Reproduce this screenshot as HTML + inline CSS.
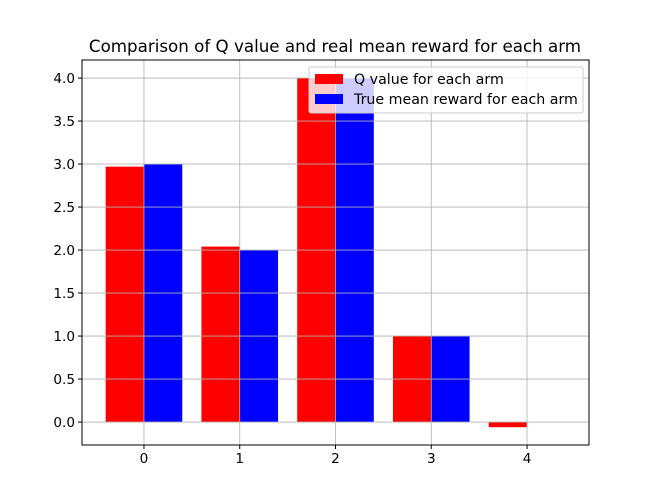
<!DOCTYPE html>
<html><head><meta charset="utf-8"><style>
body{margin:0;background:#fff}
svg{display:block;font-family:"DejaVu Sans","Liberation Sans",sans-serif}
</style></head><body>
<svg id="chart" width="654" height="500" viewBox="0 0 654 500">
<rect width="654" height="500" fill="#fff"/>
<text x="335" y="52" text-anchor="middle" font-size="16.7">Comparison of Q value and real mean reward for each arm</text>
<g id="bars"></g><g id="grid"></g><g id="axes"></g>
<g>
<rect x="309" y="67" width="274" height="46" fill="#fff" fill-opacity="0.8" stroke="#ccc" rx="2"/>
<rect x="315" y="74" width="28" height="10" fill="#ff0000"/>
<text x="354" y="84" font-size="14.2">Q value for each arm</text>
<rect x="315" y="94" width="28" height="10" fill="#0000ff"/>
<text x="354" y="104" font-size="14.2">True mean reward for each arm</text>
</g>
</svg>
<script>
const categories=[0,1,2,3,4];
const qValues=[2.97,2.04,4.0,1.0,-0.06];
const trueValues=[3,2,4,1,0];
const yTicks=[0,0.5,1,1.5,2,2.5,3,3.5,4];
const L=82,R=589,T=60,B=445;
const xMin=-0.647,xMax=4.647,yMin=-0.267,yMax=4.21;
const xs=v=>L+(v-xMin)/(xMax-xMin)*(R-L);
const ys=v=>B-(v-yMin)/(yMax-yMin)*(B-T);
const NS="http://www.w3.org/2000/svg";
function mk(t,a,p){const e=document.createElementNS(NS,t);for(const k in a)e.setAttribute(k,a[k]);p.appendChild(e);return e;}
const bars=document.getElementById('bars'),grid=document.getElementById('grid'),axes=document.getElementById('axes');
categories.forEach((c,i)=>{
  const y0=ys(0);
  let y1=ys(qValues[i]);
  let r=mk('rect',{x:xs(c-0.4),y:Math.min(y0,y1),width:xs(c)-xs(c-0.4),height:Math.abs(y1-y0),fill:'#ff0000'},bars);
  
  
  y1=ys(trueValues[i]);
  r=mk('rect',{x:xs(c),y:Math.min(y0,y1),width:xs(c+0.4)-xs(c),height:Math.abs(y1-y0),fill:'#0000ff'},bars);
  
  
  let g=mk('line',{x1:xs(c),x2:xs(c),y1:T,y2:B,stroke:'#b0b0b0','stroke-width':0.8},grid);
  
  
  mk('line',{x1:xs(c),x2:xs(c),y1:B,y2:B+4,stroke:'#000'},axes);
  let t=mk('text',{x:xs(c),y:B+18,'text-anchor':'middle','font-size':13.6},axes);
  t.textContent=c;
  
  
});
yTicks.forEach(v=>{
  let g=mk('line',{x1:L,x2:R,y1:ys(v),y2:ys(v),stroke:'#b0b0b0','stroke-width':0.8},grid);
  
  
  mk('line',{x1:L-4,x2:L,y1:ys(v),y2:ys(v),stroke:'#000'},axes);
  let t=mk('text',{x:L-7,y:ys(v)+5,'text-anchor':'end','font-size':13.6},axes);
  t.textContent=v.toFixed(1);
  
  
});
let f=mk('rect',{x:L,y:T,width:R-L,height:B-T,fill:'none',stroke:'#000','stroke-width':1},axes);


</script>
</body></html>
